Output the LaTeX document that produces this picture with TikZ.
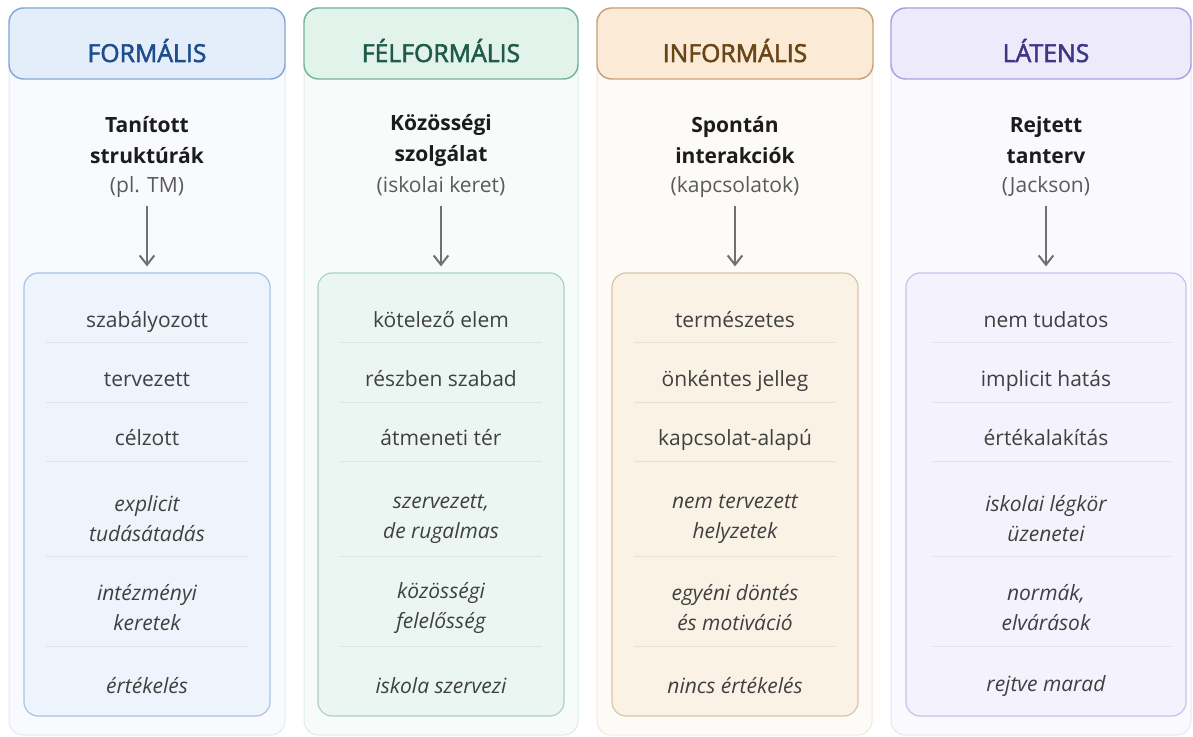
\documentclass[tikz,border=0pt]{standalone}
\usepackage{fontspec}
\setmainfont{Open Sans}
\newfontfamily\headfont[FakeBold=2.2]{Open Sans}
\usetikzlibrary{arrows.meta}
\definecolor{titleink}{HTML}{1C1C1C}
\definecolor{subink}{HTML}{5A5A5A}
\definecolor{itemink}{HTML}{404040}
\definecolor{arrowink}{HTML}{707070}
% formális -- blue
\definecolor{fpanel}{HTML}{F8FAFE}
\definecolor{fpanelline}{HTML}{E1E9F4}
\definecolor{fhead}{HTML}{E4EEFA}
\definecolor{fheadline}{HTML}{86AAD8}
\definecolor{fname}{HTML}{1E4D8C}
\definecolor{fbox}{HTML}{EEF4FC}
\definecolor{fboxline}{HTML}{A8C3E6}
\definecolor{fsep}{HTML}{DCE3EC}
% félformális -- green
\definecolor{gpanel}{HTML}{F7FBF9}
\definecolor{gpanelline}{HTML}{DDEDE6}
\definecolor{ghead}{HTML}{E2F3EC}
\definecolor{gheadline}{HTML}{74B59C}
\definecolor{gname}{HTML}{1F5B47}
\definecolor{gbox}{HTML}{EBF6F2}
\definecolor{gboxline}{HTML}{A9D3C2}
\definecolor{gsep}{HTML}{D8E6E0}
% informális -- sand
\definecolor{ipanel}{HTML}{FDFBF8}
\definecolor{ipanelline}{HTML}{F0E8DE}
\definecolor{ihead}{HTML}{FBEBD6}
\definecolor{iheadline}{HTML}{C7A27B}
\definecolor{iname}{HTML}{6A4518}
\definecolor{ibox}{HTML}{FBF2E6}
\definecolor{iboxline}{HTML}{DCC4A5}
\definecolor{isep}{HTML}{EADFD0}
% látens -- violet
\definecolor{lpanel}{HTML}{FAFAFE}
\definecolor{lpanelline}{HTML}{E6E4F6}
\definecolor{lhead}{HTML}{EDEBFB}
\definecolor{lheadline}{HTML}{A8A2E2}
\definecolor{lname}{HTML}{3F3688}
\definecolor{lbox}{HTML}{F4F2FD}
\definecolor{lboxline}{HTML}{C6C1EE}
\definecolor{lsep}{HTML}{E2E0F0}
\tikzset{
  panel/.style={line width=.75pt, rounded corners=10.5pt},
  headbox/.style={draw, line width=1.1pt, rounded corners=11pt,
    minimum width=207pt, minimum height=53.25pt, inner sep=0pt},
  headtext/.style={font=\headfont\fontsize{18.6}{22}\selectfont, anchor=base},
  titletext/.style={font=\bfseries\fontsize{15.75}{23.25}\selectfont,
    text=titleink, align=center},
  subtext/.style={font=\fontsize{15.75}{20}\selectfont, text=subink,
    text height=.75em, text depth=.25em},
  itembox/.style={draw, line width=.9pt, rounded corners=10.5pt,
    minimum width=184.5pt, minimum height=332.25pt, inner sep=0pt},
  item/.style={font=\fontsize{15.75}{22.5}\selectfont, text=itemink,
    text height=.9em, text depth=0pt},
  item2/.style={font=\fontsize{15.75}{22.5}\selectfont\itshape, text=itemink,
    align=center},
  sep/.style={line width=.75pt},
  flow/.style={draw=arrowink, line width=1.5pt, shorten <=4pt, shorten >=4.5pt,
    -{Straight Barb[length=7pt,width=11pt]}}
}

\begin{document}
\begin{tikzpicture}[x=0.75pt,y=-0.75pt]
  \useasboundingbox (0,0) rectangle (1193,737);
  % A: formális
  \begin{scope}[shift={(147,0)}]
    \draw[panel, fill=fpanel, draw=fpanelline] (-138,8) rectangle (138,735);
    \node[headbox, fill=fhead, draw=fheadline] (fhead) at (0,43.5) {};
    \node[headtext, text=fname] (fname) at (0,62) {FORMÁLIS};
    \node[titletext] (ftitle) at (0,140.5) {Tanított\\struktúrák};
    \node[subtext] (fsub) at (0,189) {(pl. TM)};
    \node[itembox, fill=fbox, draw=fboxline] (fbox) at (0,494.5) {};
    \draw[flow] (fsub) -- (fbox);
    \foreach \y in {343,403,462,557,647} \draw[sep, draw=fsep] (-101,\y) -- (101,\y);
    \foreach \y/\t [count=\i] in {322/szabályozott, 381/tervezett, 440/célzott}
      \node[item] (fitem\i) at (0,\y) {\t};
    \foreach \y/\t [count=\i from 4] in {519/{explicit\\tudásátadás}, 608/{intézményi\\keretek}, 686/értékelés}
      \node[item2] (fitem\i) at (0,\y) {\t};
  \end{scope}
  % B: félformális
  \begin{scope}[shift={(441,0)}]
    \draw[panel, fill=gpanel, draw=gpanelline] (-137,8) rectangle (137,735);
    \node[headbox, fill=ghead, draw=gheadline, minimum width=205.5pt] (ghead) at (0,43.5) {};
    \node[headtext, text=gname] (gname) at (0,62) {FÉLFORMÁLIS};
    \node[titletext] (gtitle) at (0,140.5) {Közösségi\\szolgálat};
    \node[subtext] (gsub) at (0,189) {(iskolai keret)};
    \node[itembox, fill=gbox, draw=gboxline] (gbox) at (0,494.5) {};
    \draw[flow] (gsub) -- (gbox);
    \foreach \y in {343,403,462,557,647} \draw[sep, draw=gsep] (-101,\y) -- (101,\y);
    \foreach \y/\t [count=\i] in {322/kötelező elem, 381/részben szabad, 440/átmeneti tér}
      \node[item] (gitem\i) at (0,\y) {\t};
    \foreach \y/\t [count=\i from 4] in {519/{szervezett,\\de rugalmas}, 608/{közösségi\\felelősség}, 686/iskola szervezi}
      \node[item2] (gitem\i) at (0,\y) {\t};
  \end{scope}
  % C: informális
  \begin{scope}[shift={(735,0)}]
    \draw[panel, fill=ipanel, draw=ipanelline] (-138,8) rectangle (137,735);
    \node[headbox, fill=ihead, draw=iheadline] (ihead) at (0,43.5) {};
    \node[headtext, text=iname] (iname) at (0,62) {INFORMÁLIS};
    \node[titletext] (ititle) at (0,140.5) {Spontán\\interakciók};
    \node[subtext] (isub) at (0,189) {(kapcsolatok)};
    \node[itembox, fill=ibox, draw=iboxline] (ibox) at (0,494.5) {};
    \draw[flow] (isub) -- (ibox);
    \foreach \y in {343,403,462,557,647} \draw[sep, draw=isep] (-101,\y) -- (101,\y);
    \foreach \y/\t [count=\i] in {322/természetes, 381/önkéntes jelleg, 440/kapcsolat-alapú}
      \node[item] (iitem\i) at (0,\y) {\t};
    \foreach \y/\t [count=\i from 4] in {519/{nem tervezett\\helyzetek}, 608/{egyéni döntés\\és motiváció}, 686/nincs értékelés}
      \node[item2] (iitem\i) at (0,\y) {\t};
  \end{scope}
  % D: látens -- wider, runs to the edge
  \begin{scope}[shift={(1046,0)}]
    \draw[panel, fill=lpanel, draw=lpanelline] (-155,8) rectangle (145,735);
    \node[headbox, fill=lhead, draw=lheadline, minimum width=225pt] (lhead) at (-5,43.5) {};
    \node[headtext, text=lname] (lname) at (0,62) {LÁTENS};
    \node[titletext] (ltitle) at (0,140.5) {Rejtett\\tanterv};
    \node[subtext] (lsub) at (0,189) {(Jackson)};
    \node[itembox, fill=lbox, draw=lboxline, minimum width=210pt] (lbox) at (0,494.5) {};
    \draw[flow] (lsub) -- (lbox);
    \foreach \y in {343,403,462,557,647} \draw[sep, draw=lsep] (-113,\y) -- (125,\y);
    \foreach \y/\t [count=\i] in {322/nem tudatos, 381/implicit hatás, 440/értékalakítás}
      \node[item] (litem\i) at (0,\y) {\t};
    \foreach \y/\t [count=\i from 4] in {519/{iskolai légkör\\üzenetei}, 608/{normák,\\elvárások}, 686/rejtve marad}
      \node[item2] (litem\i) at (0,\y) {\t};
  \end{scope}
\end{tikzpicture}
\end{document}
